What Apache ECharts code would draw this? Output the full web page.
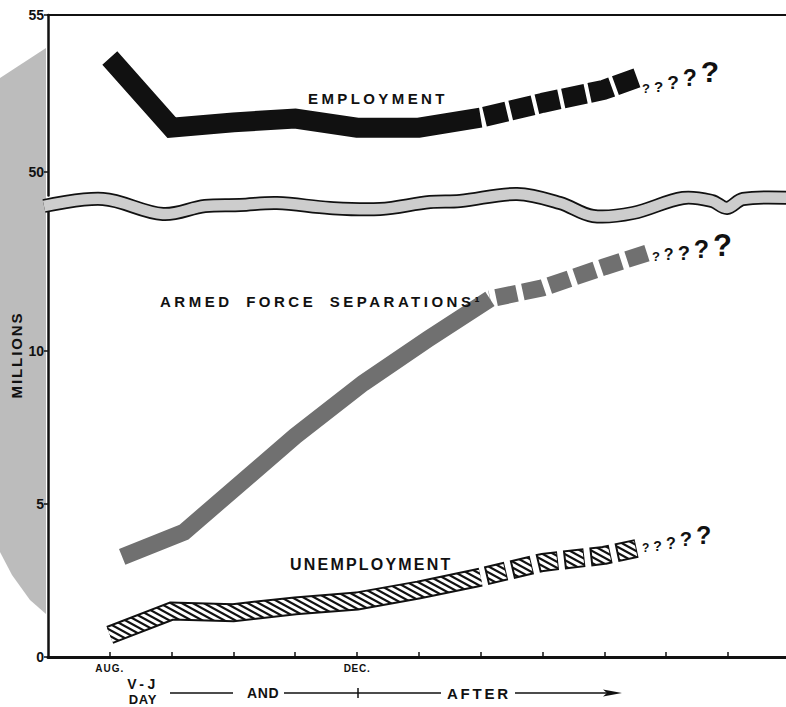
<!DOCTYPE html>
<html><head><meta charset="utf-8">
<script src="https://cdn.jsdelivr.net/npm/echarts@6/dist/echarts.min.js"></script>
<style>html,body{margin:0;padding:0;background:#fff}#c{width:786px;height:707px}</style>
</head><body><div id="c"></div>
<script>
// ---------- data ----------
const months = ['AUG.','SEP.','OCT.','NOV.','DEC.','JAN.','FEB.','MAR.','APR.','MAY','JUN.'];
const labeledMonths = [0, 4];
const upperTicks = [50, 55];
const lowerTicks = [0, 5, 10];

const employmentX = [0, 1, 2, 3, 4, 5, 6];
const employment = [53.63, 51.41, 51.58, 51.70, 51.41, 51.41, 51.73];
const employmentProjX = [6, 7, 8, 8.53];
const employmentProj = [51.73, 52.2, 52.62, 53.0];

const armedX = [0.2, 1.2, 3, 4.1, 5.15, 6.15];
const armed = [3.27, 4.08, 7.22, 8.95, 10.39, 11.7];
const armedProjX = [6.15, 7, 8, 8.69];
const armedProj = [11.7, 12.06, 12.75, 13.2];

const unempX = [0, 1, 2, 3, 4, 5, 6];
const unemp = [0.72, 1.5, 1.45, 1.67, 1.83, 2.19, 2.61];
const unempProjX = [6, 7, 8, 8.53];
const unempProj = [2.61, 3.09, 3.32, 3.55];

// decoration: wavy axis-break band (pixel centre line)
const waveX = [44, 103, 163, 205, 240, 277, 330, 380, 430, 460, 517, 560, 593, 633, 683, 712, 727, 743, 790];
const waveY = [206, 199, 214, 206, 205, 203, 208, 209, 202, 201, 194, 203, 216, 213, 198, 201, 208, 199, 198];

// ---------- helpers ----------
const zip = (xs, ys) => xs.map((x, i) => [x, ys[i]]);
const INK = '#111';
const FONT = '"Liberation Sans", Arial, sans-serif';

function hatchCanvas() {
  const c = document.createElement('canvas');
  c.width = 11; c.height = 5.5;
  c.width = 11; c.height = 6;
  const g = c.getContext('2d');
  g.fillStyle = '#fff'; g.fillRect(0, 0, 12, 6);
  g.strokeStyle = INK; g.lineWidth = 2.2;
  for (const dy of [-6, 0, 6]) {
    g.beginPath(); g.moveTo(-1, dy - 0.545); g.lineTo(12, dy + 6.545); g.stroke();
  }
  return c;
}
const hatch = { image: hatchCanvas(), repeat: 'repeat', imageWidth: 11, imageHeight: 6 };

function qLabel(sizes, pads, dy) {
  const rich = {};
  let fmt = '';
  sizes.forEach((s, i) => {
    rich['q' + i] = { fontSize: s, fontWeight: 'bold', fontFamily: FONT, color: INK,
      verticalAlign: 'bottom', padding: [0, 4, pads[i], 0] };
    fmt += '{q' + i + '|?}';
  });
  return { show: true, distance: 5, offset: [0, dy], formatter: fmt, rich: rich };
}

const base = { type: 'line', symbol: 'none', silent: true, emphasis: { disabled: true }, animation: false };

function xAxisCfg(gi, top) {
  return {
    type: 'value', gridIndex: gi, min: -1, max: 10.94, position: top ? 'top' : 'bottom',
    axisLine: { onZero: false, lineStyle: { color: INK, width: top ? 2 : 3 } },
    axisTick: top ? { show: false } : { inside: true, length: 5, lineStyle: { color: INK, width: 1.5 }, customValues: months.map((m, i) => i) },
    axisLabel: top ? { show: false } : { customValues: labeledMonths, formatter: v => months[v], color: INK,
      fontFamily: FONT, fontWeight: 'bold', fontSize: 10, margin: 6 },
    splitLine: { show: false }
  };
}
function yAxisCfg(gi, min, max, ticks) {
  return {
    type: 'value', gridIndex: gi, min: min, max: max,
    axisLine: { show: true, onZero: false, lineStyle: { color: INK, width: 2.5 } },
    axisTick: { show: true, length: 4, customValues: ticks, lineStyle: { color: INK, width: 1.5 } },
    axisLabel: { customValues: ticks, color: INK, fontFamily: FONT, fontWeight: 'bold', fontSize: 14, margin: 4 },
    splitLine: { show: false }
  };
}

const chart = echarts.init(document.getElementById('c'), null, { renderer: 'svg' });

const wavePts = zip(waveX, waveY);
const txt = (t, x, y, size, align, extra) => Object.assign({
  type: 'text', x: x, y: y, z: 20,
  style: { text: t, fill: INK, font: 'bold ' + size + 'px ' + FONT, textAlign: align, textVerticalAlign: 'middle', align: align, verticalAlign: 'middle' }
}, extra || {});

chart.setOption({
  animation: false,
  backgroundColor: '#fff',
  grid: [
    { left: 48, right: 0, top: 15, height: 180.5 },
    { left: 48, right: 0, top: 210.2, bottom: 50 }
  ],
  xAxis: [xAxisCfg(0, true), xAxisCfg(1, false)],
  yAxis: [yAxisCfg(0, 49.25, 55, upperTicks), yAxisCfg(1, 0, 14.6, lowerTicks)],
  series: [
    Object.assign({}, base, { name: 'Employment', xAxisIndex: 0, yAxisIndex: 0, data: zip(employmentX, employment),
      lineStyle: { color: INK, width: 20, join: 'miter', cap: 'butt' } }),
    Object.assign({}, base, { name: 'Employment (projected)', xAxisIndex: 0, yAxisIndex: 0, data: zip(employmentProjX, employmentProj),
      lineStyle: { color: INK, width: 20, type: [22, 4], dashOffset: 22, cap: 'butt' },
      endLabel: qLabel([13, 15, 19, 23, 30], [0, 1, 3, 5, 8], -2) }),

    Object.assign({}, base, { name: 'Armed force separations', xAxisIndex: 1, yAxisIndex: 1, data: zip(armedX, armed),
      lineStyle: { color: '#707070', width: 17, join: 'miter', cap: 'butt' } }),
    Object.assign({}, base, { name: 'Armed force separations (projected)', xAxisIndex: 1, yAxisIndex: 1, data: zip(armedProjX, armedProj),
      lineStyle: { color: '#707070', width: 17, type: [20, 6], dashOffset: 20, cap: 'butt' },
      endLabel: qLabel([13, 16, 20, 25, 31], [0, 0, 0, 1, 2], -7) }),

    Object.assign({}, base, { name: 'Unemployment outline', xAxisIndex: 1, yAxisIndex: 1, data: zip(unempX, unemp),
      lineStyle: { color: INK, width: 19, join: 'miter', cap: 'butt' } }),
    Object.assign({}, base, { name: 'Unemployment', xAxisIndex: 1, yAxisIndex: 1, data: zip(unempX, unemp),
      lineStyle: { color: hatch, width: 15, join: 'miter', cap: 'butt' } }),
    Object.assign({}, base, { name: 'Unemployment outline (projected)', xAxisIndex: 1, yAxisIndex: 1, data: zip(unempProjX, unempProj),
      lineStyle: { color: INK, width: 19, type: [20, 6], dashOffset: 20, cap: 'butt' } }),
    Object.assign({}, base, { name: 'Unemployment (projected)', xAxisIndex: 1, yAxisIndex: 1, data: zip(unempProjX, unempProj),
      lineStyle: { color: hatch, width: 15, type: [17, 9], dashOffset: 18.5, cap: 'butt' },
      endLabel: qLabel([12, 14, 16, 20, 25], [0, 1, 3, 5, 7], -10) })
  ],
  graphic: [
    { type: 'polygon', z: -1, shape: { points: [[0, 78], [46, 48], [46, 614], [30, 600], [12, 575], [0, 552]] },
      style: { fill: '#bcbcbc' } },
    { type: 'polyline', z: 10, shape: { points: wavePts, smooth: 0.35 }, style: { stroke: INK, lineWidth: 14, fill: null } },
    { type: 'polyline', z: 11, shape: { points: wavePts, smooth: 0.35 }, style: { stroke: '#cdcdcd', lineWidth: 10.5, fill: null } },

    txt('EMPLOYMENT', 308, 98, 15, 'left'),
    txt('ARMED FORCE SEPARATIONS¹', 160, 301, 15, 'left'),
    txt('UNEMPLOYMENT', 290, 564, 16, 'left'),
    txt('MILLIONS', 16, 355, 15, 'center', { rotation: Math.PI / 2 }),

    txt('V-J', 143, 684, 14, 'center'),
    txt('DAY', 143, 699, 13, 'center'),
    txt('AND', 247, 693, 14, 'left'),
    txt('AFTER', 447, 693, 15, 'left'),
    { type: 'line', z: 20, shape: { x1: 170, y1: 693, x2: 233, y2: 693 }, style: { stroke: INK, lineWidth: 1.5 } },
    { type: 'line', z: 20, shape: { x1: 284, y1: 693, x2: 441, y2: 693 }, style: { stroke: INK, lineWidth: 1.5 } },
    { type: 'line', z: 20, shape: { x1: 358, y1: 688, x2: 358, y2: 698 }, style: { stroke: INK, lineWidth: 1.5 } },
    { type: 'line', z: 20, shape: { x1: 515, y1: 693, x2: 608, y2: 693 }, style: { stroke: INK, lineWidth: 1.5 } },
    { type: 'polygon', z: 20, shape: { points: [[603, 689.5], [622, 693], [603, 696.5], [607, 693]] }, style: { fill: INK } }
  ]
});

// fit dash patterns so each projected band starts with a gap and ends on a full dash
function pathLen(si, pts) {
  let L = 0, prev = null;
  pts.forEach(p => {
    const q = chart.convertToPixel({ seriesIndex: si }, p);
    if (prev) L += Math.hypot(q[0] - prev[0], q[1] - prev[1]);
    prev = q;
  });
  return L;
}
function fitDash(L, dash, gap) {
  const n = Math.max(1, Math.round(L / (dash + gap)));
  const P = L / n;
  return { D: P - gap, g: gap, P: P };
}
const fe = fitDash(pathLen(1, zip(employmentProjX, employmentProj)), 22, 4);
const fa = fitDash(pathLen(3, zip(armedProjX, armedProj)), 20, 6);
const fu = fitDash(pathLen(6, zip(unempProjX, unempProj)), 20, 6);
chart.setOption({
  series: [
    {},
    { lineStyle: { type: [fe.D, fe.g], dashOffset: fe.D } },
    {},
    { lineStyle: { type: [fa.D, fa.g], dashOffset: fa.D } },
    {}, {},
    { lineStyle: { type: [fu.D, fu.g], dashOffset: fu.D } },
    { lineStyle: { type: [fu.D - 3, fu.g + 3], dashOffset: fu.P - fu.g - 1.5 } }
  ]
});

// letter spacing (SVG text)
const spacing = { 'EMPLOYMENT': 3.4, 'ARMED FORCE SEPARATIONS¹': 3.5, 'UNEMPLOYMENT': 2.2, 'MILLIONS': 1.9,
  'AFTER': 2.75, 'AND': 0.6, 'V-J': 3.5, 'DAY': 0.8, 'AUG.': 1, 'DEC.': 0.7 };
function applySpacing() {
  document.querySelectorAll('#c svg text').forEach(t => {
    const s = spacing[t.textContent];
    if (s != null) {
      t.setAttribute('letter-spacing', s);
      if (t.textContent.indexOf(' ') >= 0) t.setAttribute('word-spacing', 6);
    }
  });
}
chart.on('finished', applySpacing);
setTimeout(applySpacing, 50);
setTimeout(applySpacing, 300);
</script>
</body></html>
